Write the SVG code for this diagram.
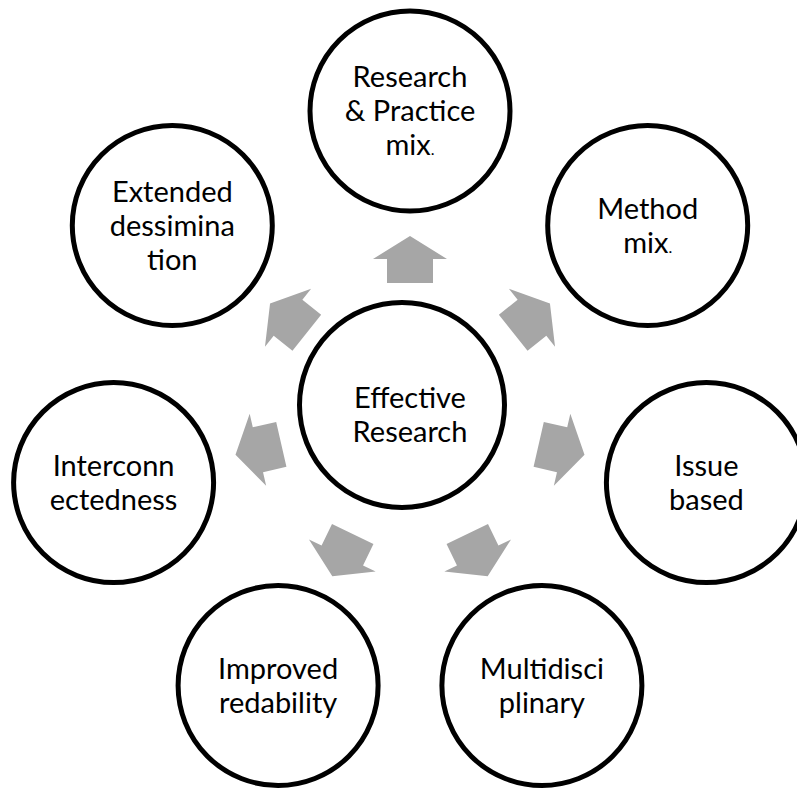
<svg xmlns="http://www.w3.org/2000/svg" xmlns:xlink="http://www.w3.org/1999/xlink" width="797" height="789" viewBox="0 0 797 789">
  <style>
    .ring { fill: #ffffff; stroke: #000000; stroke-width: 5; }
    .label { font-family: Lato, "Open Sans", "Liberation Sans", sans-serif; font-size: 29px; fill: #000000; text-anchor: middle; }
    .dot { font-size: 16px; }
    .arrow { fill: #a6a6a6; }
  </style>
  <defs>
    <!-- block arrow pointing up, drawn relative to the radial centre -->
    <path id="arrow" class="arrow" d="M -23 -132 L 23 -132 L 23 -156 L 37 -156 L 0 -179 L -37 -156 L -23 -156 Z"/>
  </defs>
  <rect width="797" height="789" fill="#ffffff"/>

  <g id="connectors">
    <use xlink:href="#arrow" href="#arrow" transform="translate(410 415) rotate(0)"/>
    <use xlink:href="#arrow" href="#arrow" transform="translate(410 415) rotate(51.4286)"/>
    <use xlink:href="#arrow" href="#arrow" transform="translate(410 415) rotate(102.857)"/>
    <use xlink:href="#arrow" href="#arrow" transform="translate(410 415) rotate(154.286)"/>
    <use xlink:href="#arrow" href="#arrow" transform="translate(410 415) rotate(205.714)"/>
    <use xlink:href="#arrow" href="#arrow" transform="translate(410 415) rotate(257.143)"/>
    <use xlink:href="#arrow" href="#arrow" transform="translate(410 415) rotate(308.571)"/>
  </g>

  <g id="hub">
    <circle class="ring" cx="402" cy="405" r="102.5"/>
    <text class="label" x="410" y="408">Effective</text>
    <text class="label" x="410" y="442">Research</text>
  </g>

  <g id="node-research-practice">
    <circle class="ring" cx="410" cy="111" r="100"/>
    <text class="label" x="410" y="87">Research</text>
    <text class="label" x="410" y="121">&amp; Practice</text>
    <text class="label" x="410" y="155">mix<tspan class="dot">.</tspan></text>
  </g>

  <g id="node-method-mix">
    <circle class="ring" cx="647.7" cy="225.5" r="100"/>
    <text class="label" x="647.7" y="218.5">Method</text>
    <text class="label" x="647.7" y="252.5">mix<tspan class="dot">.</tspan></text>
  </g>

  <g id="node-issue-based">
    <circle class="ring" cx="706.4" cy="482.6" r="100"/>
    <text class="label" x="706.4" y="475.6">Issue</text>
    <text class="label" x="706.4" y="509.6">based</text>
  </g>

  <g id="node-multidisciplinary">
    <circle class="ring" cx="541.9" cy="685.5" r="100"/>
    <text class="label" x="541.9" y="678.5">Multidisci</text>
    <text class="label" x="541.9" y="712.5">plinary</text>
  </g>

  <g id="node-improved-readability">
    <circle class="ring" cx="278.1" cy="685.5" r="100"/>
    <text class="label" x="278.1" y="678.5">Improved</text>
    <text class="label" x="278.1" y="712.5">redability</text>
  </g>

  <g id="node-interconnectedness">
    <circle class="ring" cx="113.6" cy="482.6" r="100"/>
    <text class="label" x="113.6" y="475.6">Interconn</text>
    <text class="label" x="113.6" y="509.6">ectedness</text>
  </g>

  <g id="node-extended-dissemination">
    <circle class="ring" cx="172.3" cy="225.5" r="100"/>
    <text class="label" x="172.3" y="201.5">Extended</text>
    <text class="label" x="172.3" y="235.5">dessimina</text>
    <text class="label" x="172.3" y="269.5">tion</text>
  </g>
</svg>
